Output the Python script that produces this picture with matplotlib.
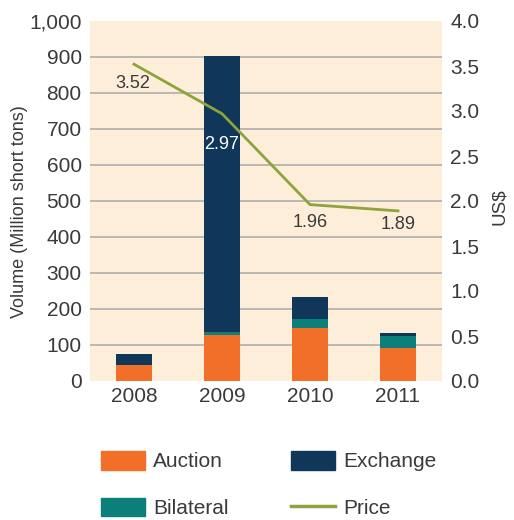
import matplotlib
matplotlib.use('Agg')
import matplotlib.pyplot as plt
import numpy as np
from matplotlib.patches import Patch
from matplotlib.lines import Line2D

# --- data ---------------------------------------------------------------------
years     = ['2008', '2009', '2010', '2011']
auction   = [44, 128, 148, 93]
bilateral = [0, 9, 24, 32]
exchange  = [31, 767, 62, 9]
price     = [3.52, 2.97, 1.96, 1.89]
price_lbl = ['3.52', '2.97', '1.96', '1.89']

# --- style --------------------------------------------------------------------
C_AUCTION = '#F26F2A'
C_BILAT   = '#0B7F7A'
C_EXCH    = '#10365A'
C_PRICE   = '#8EA33B'
C_BG      = '#FDEEDA'
C_GRID    = '#A9A9A9'
C_TEXT    = '#3A3A3A'

plt.rcParams['font.family'] = ['Liberation Sans', 'DejaVu Sans']
plt.rcParams['text.color'] = C_TEXT

fig = plt.figure(figsize=(5.14, 5.20), dpi=100)
ax = fig.add_axes([90/514, 1 - 381/520, 352/514, 360/520])
ax.set_facecolor(C_BG)

x = np.arange(len(years))
w = 0.4
b1 = np.array(auction)
b2 = b1 + np.array(bilateral)
ax.bar(x, auction, w, color=C_AUCTION, zorder=3)
ax.bar(x, bilateral, w, bottom=b1, color=C_BILAT, zorder=3)
ax.bar(x, exchange, w, bottom=b2, color=C_EXCH, zorder=3)

ax.set_xlim(-0.5, 3.5)
ax.set_ylim(0, 1000)
ax.set_yticks(range(0, 1001, 100))
ax.set_yticklabels([f'{v:,}' for v in range(0, 1001, 100)])
ax.set_xticks(x)
ax.set_xticklabels(years)
for v in range(100, 1000, 100):
    ax.axhline(v, color=C_GRID, lw=1.1, zorder=1)
for s in ax.spines.values():
    s.set_visible(False)
ax.tick_params(axis='y', length=0, labelsize=15, labelcolor=C_TEXT, pad=6)
ax.tick_params(axis='x', length=0, labelsize=15, labelcolor=C_TEXT, pad=4)
ax.set_ylabel('Volume (Million short tons)', fontsize=13, color=C_TEXT)
ax.yaxis.set_label_coords(-0.176, 0.47)

ax2 = ax.twinx()
ax2.set_ylim(0, 4)
ax2.set_yticks(np.arange(0, 4.01, 0.5))
ax2.set_yticklabels([f'{v:.1f}' for v in np.arange(0, 4.01, 0.5)])
for s in ax2.spines.values():
    s.set_visible(False)
ax2.tick_params(axis='y', length=0, labelsize=15, labelcolor=C_TEXT, pad=6)
ax2.set_ylabel('US$', fontsize=13.5, color=C_TEXT)
ax2.yaxis.set_label_coords(1.14, 0.483)
ax2.plot(x, price, color=C_PRICE, lw=2, zorder=4)

offsets = [(-1, -19), (0, -31), (0, -18), (0, -14)]
for i, (lbl, off) in enumerate(zip(price_lbl, offsets)):
    col = 'white' if i == 1 else C_TEXT
    ax2.annotate(lbl, (x[i], price[i]), xytext=off, textcoords='offset pixels',
                 ha='center', va='center', fontsize=13, color=col)

handles = [Patch(color=C_AUCTION), Patch(color=C_BILAT),
           Patch(color=C_EXCH), Line2D([], [], color=C_PRICE, lw=2.5)]
labels = ['Auction', 'Bilateral', 'Exchange', 'Price']
fig.legend(handles, labels, ncol=2, loc='upper left',
           bbox_to_anchor=(101/514, 1 - 451/520), frameon=False,
           fontsize=15, handlelength=2.1, handleheight=1.0,
           handletextpad=0.4, columnspacing=3.0, labelspacing=1.25,
           borderpad=0, borderaxespad=0, labelcolor=C_TEXT)

fig.savefig('out.png', dpi=100)
